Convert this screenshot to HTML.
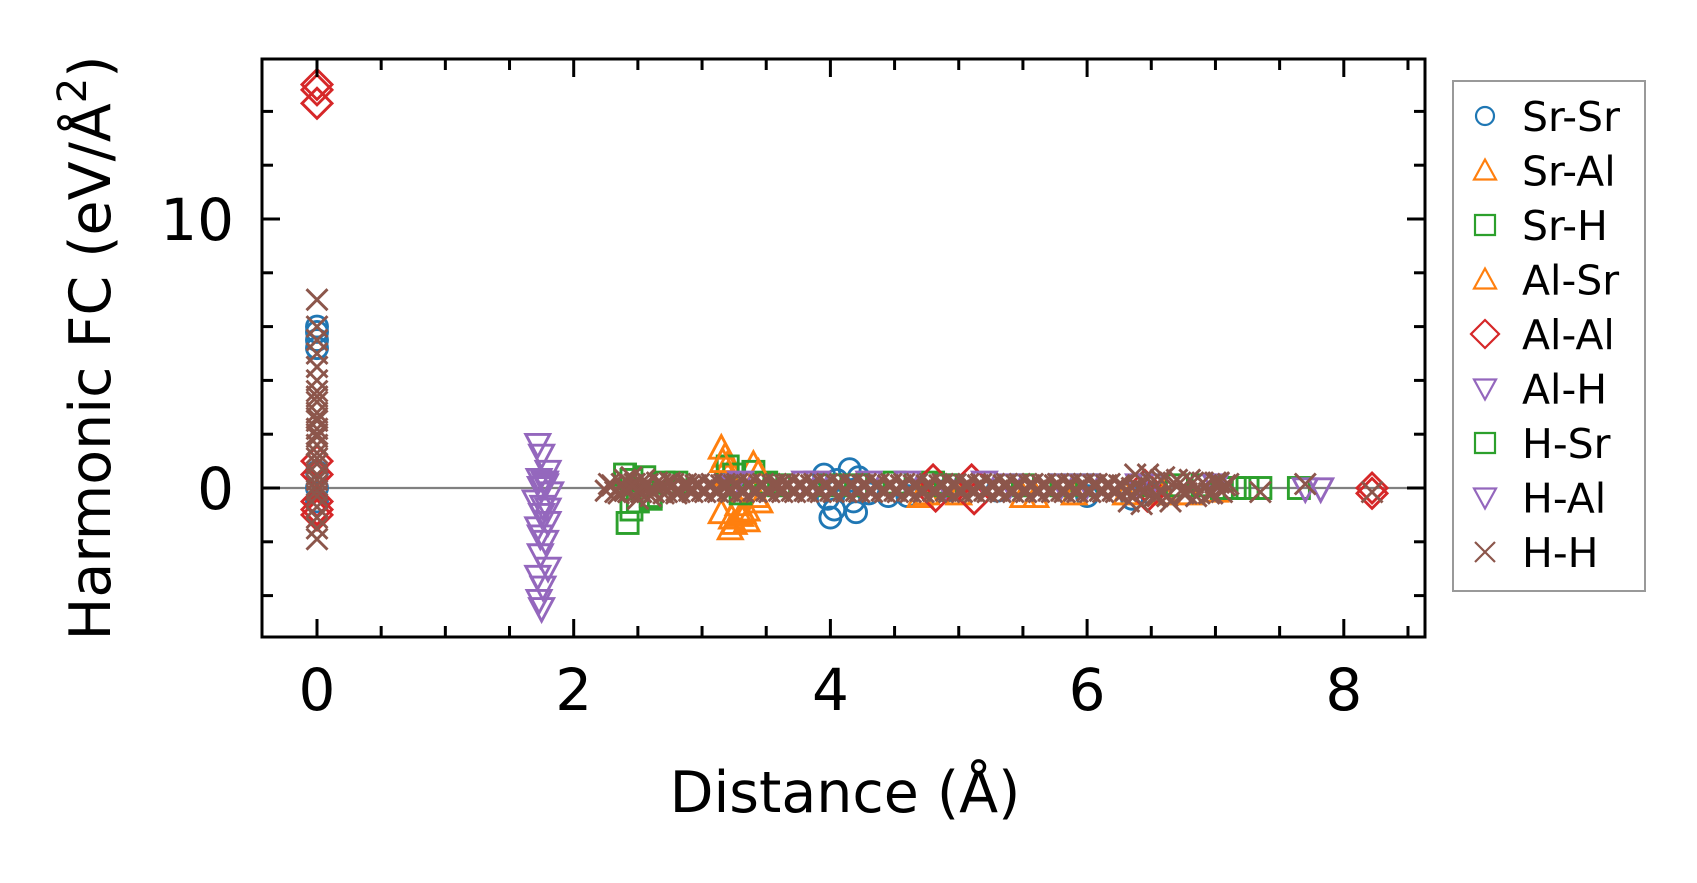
<!DOCTYPE html>
<html><head><meta charset="utf-8"><style>
html,body{margin:0;padding:0;background:#fff;}
svg{display:block;font-family:"DejaVu Sans","Liberation Sans",sans-serif;}
</style></head><body>
<svg id="chart" width="1697" height="883" viewBox="0 0 1697 883"></svg>
<script>
// ---- data ----
const xTicks=[0,2,4,6,8];
const yTicks=[0,10];
const seriesNames=["Sr-Sr","Sr-Al","Sr-H","Al-Sr","Al-Al","Al-H","H-Sr","H-Al","H-H"];
const srsrX=[0,0,0,0,0,0,0,3.95,3.98,4.0,4.03,4.05,4.15,4.18,4.2,4.22,4.3,4.45,4.6,4.9,5.3,6.0,6.35,6.5];
const srsrY=[6.0,5.8,5.5,5.2,0.6,0,-0.5,0.5,-0.4,-1.1,-0.8,0.3,0.7,-0.5,-0.9,0.4,-0.2,-0.3,-0.3,-0.1,-0.1,-0.3,-0.4,-0.2];
const sralX=[3.15,3.18,3.2,3.22,3.25,3.3,3.35,3.4,3.45,3.15,3.2,3.28,3.35,3.42,4.7,5.0,5.5,5.9,6.3,6.8,7.0];
const sralY=[1.5,1.2,0.9,-1.5,-1.3,-1.0,-1.2,0.9,-0.5,-0.9,0.5,-0.6,-0.8,-0.3,-0.3,-0.2,-0.3,-0.2,-0.2,-0.2,-0.1];
const srhX=[2.4,2.42,2.45,2.5,2.55,2.6,2.7,3.2,3.25,3.4,3.5,4.0,4.5,4.8,5.5,6.0,6.5,6.9,7.15,7.35];
const srhY=[0.5,-1.3,-0.8,-0.5,0.4,-0.3,0.2,0.8,0.5,0.6,0.2,0.1,0.2,0.2,0.1,0.1,0.1,0.1,0.0,0.0];
const alsrX=[3.16,3.23,3.32,3.44,4.75,5.6,6.6];
const alsrY=[1.0,-1.1,-0.9,0.6,-0.2,-0.3,-0.2];
const alalX=[0,0,0,0,0,0,0,0,4.8,4.82,5.1,5.12,6.45,6.47,8.22,8.22];
const alalY=[15.0,14.8,14.3,1.0,0.5,-0.5,-0.8,-1.0,0.3,-0.3,0.3,-0.4,0.1,-0.3,0.0,-0.2];
const alhX=[1.72,1.75,1.8,1.73,1.78,1.82,1.7,1.75,1.8,1.72,1.78,1.74,1.8,1.72,1.76,1.73,1.75,1.74,1.76,1.78,3.3,3.8,4.3,4.9,5.4,6.0,6.5];
const alhY=[1.6,1.2,0.6,0.3,0.1,-0.2,-0.5,-1.0,-1.3,-1.5,-2.0,-2.5,-3.0,-3.3,-3.7,-4.2,-4.5,0.0,-0.7,0.2,0.2,0.2,0.2,0.1,0.1,0.1,0.1];
const hsrX=[2.45,2.6,2.8,3.3,3.6,4.2,4.9,5.8,6.7,7.05,7.25,7.65];
const hsrY=[0.3,-0.4,0.2,-0.2,0.1,0.1,0.1,0.1,0.1,0.0,0.0,0.0];
const halX=[1.77,1.8,1.74,3.25,3.9,4.6,5.2,5.8,6.4,7.0,7.7,7.82];
const halY=[0.2,-0.8,-1.8,0.1,0.2,0.2,0.2,0.1,0.1,0.1,-0.05,-0.05];
const hhX=[0,0,0,0,0,0,0,0,0,0,0,0,0,0,0,0,0,0,0,0,0,0,0,0,0,0,0,0,
2.25,2.3,2.35,2.4,2.45,2.5,2.55,2.6,2.65,2.7,2.75,2.8,2.85,2.9,2.95,3.0,3.05,3.1,3.15,3.2,3.25,3.3,3.35,3.4,3.45,3.5,3.55,3.6,3.65,3.7,3.75,3.8,3.85,3.9,3.95,4.0,4.05,4.1,4.15,4.2,4.25,4.3,4.35,4.4,4.45,4.5,4.55,4.6,4.65,4.7,4.75,4.8,4.85,4.9,4.95,5.0,5.05,5.1,5.15,5.2,5.25,5.3,5.35,5.4,5.45,5.5,5.55,5.6,5.65,5.7,5.75,5.8,5.85,5.9,5.95,6.0,6.05,6.1,6.15,6.2,6.25,6.3,6.35,6.4,6.45,6.5,6.55,6.6,6.65,6.7,6.75,6.8,6.85,6.9,6.95,7.0,7.05,7.1,7.35,7.7,8.22,
2.275,2.325,2.375,2.425,2.475,2.525,2.575,2.625,2.675,2.725,2.775,2.825,2.875,2.925,2.975,3.025,3.075,3.125,3.175,3.225,3.275,3.325,3.375,3.425,3.475,3.525,3.575,3.625,3.675,3.725,3.775,3.825,3.875,3.925,3.975,4.025,4.075,4.125,4.175,4.225,4.275,4.325,4.375,4.425,4.475,4.525,4.575,4.625,4.675,4.725,4.775,4.825,4.875,4.925,4.975,5.025,5.075,5.125,5.175,5.225,5.275,5.325,5.375,5.425,5.475,5.525,5.575,5.625,5.675,5.725,5.775,5.825,5.875,5.925,5.975,6.025,6.075,6.125,6.175,6.225,6.275,6.325,6.375,6.425,6.475,6.525,6.575,6.625,6.675,6.725,6.775,6.825,6.875,6.925,6.975,7.025,7.075,
2.4,2.45,2.5,2.55,2.6,2.7,2.8,2.9,3.0,3.2,3.4,3.6,3.8,4.0,4.2,4.4,4.6,4.8,5.0,5.2,5.4,5.6,5.8,6.0,6.2,6.4,6.6,6.8,7.0];
const hhY=[7.0,6.0,5.5,5.0,4.5,4.0,3.6,3.2,2.8,2.5,2.2,1.9,1.6,1.3,0.9,0.5,0.1,-0.3,-0.7,-1.1,-1.5,-1.9,2.0,2.6,3.4,1.1,0.3,-0.1,
-0.1,0.1,-0.2,0.3,0.4,-0.4,0.3,-0.3,0.2,-0.2,0.2,-0.2,0.1,-0.1,0.1,-0.1,0.1,-0.1,0.1,-0.1,0.1,-0.1,0.1,-0.1,0.1,-0.1,0.1,-0.1,0.1,-0.1,0.1,-0.1,0.1,-0.1,0.1,-0.1,0.1,-0.1,0.1,-0.1,0.1,-0.1,0.1,-0.1,0.1,-0.1,0.1,-0.1,0.1,-0.1,0.1,-0.1,0.1,-0.1,0.1,-0.1,0.1,-0.1,0.1,-0.1,0.1,-0.1,0.1,-0.1,0.1,-0.1,0.1,-0.1,0.1,-0.1,0.1,-0.1,0.1,-0.1,0.1,-0.1,0.1,-0.1,0.1,-0.1,0.1,-0.1,0.0,0.0,-0.1,
0.2,-0.3,0.4,-0.5,0.3,-0.2,0.3,-0.3,0.2,-0.2,0.2,-0.15,0.15,-0.15,0.15,-0.15,0.15,-0.15,0.15,-0.15,0.15,-0.15,0.15,-0.15,0.15,-0.15,0.15,-0.15,0.15,-0.15,0.15,-0.15,0.15,-0.15,0.15,-0.15,0.15,-0.15,0.15,-0.15,0.15,-0.15,0.15,-0.15,0.15,-0.15,0.15,-0.15,0.15,-0.15,0.15,-0.15,0.15,-0.15,0.15,-0.15,0.15,-0.15,0.15,-0.15,0.15,-0.15,0.15,-0.15,0.15,-0.15,0.15,-0.15,0.15,-0.15,0.15,-0.15,0.15,-0.15,0.15,-0.15,0.15,-0.15,0.15,-0.15,0.15,-0.15,0.15,-0.15,0.15,-0.15,0.15,-0.15,0.15,-0.15,0.15,-0.15,0.15,-0.15,0.15,-0.15,0.1,
-0.5,0.5,-0.6,0.5,-0.3,0.3,-0.3,0.2,0.2,-0.2,0.2,-0.2,0.1,-0.2,0.2,0.1,-0.1,0.1,-0.1,0.1,-0.1,0.1,-0.1,0.1,-0.1,0.1,-0.1,0.1,-0.1];

// ---- layout ----
const L=262,R=1425,T=59,B=637;
const x0px=317,xs=128.35,y0px=488,ys=26.9;
const sx=x=>x0px+x*xs, sy=y=>y0px-y*ys;
const NS="http://www.w3.org/2000/svg";
const svg=document.getElementById('chart');
function mk(tag,attrs,parent){const e=document.createElementNS(NS,tag);for(const k in attrs)e.setAttribute(k,attrs[k]);(parent||svg).appendChild(e);return e;}

const zl=mk('line',{x1:L,x2:R,y1:sy(0),y2:sy(0),stroke:'#808080','stroke-width':2.2});



function marker(shape,color,cx,cy,g,sw){
  let e;
  const a={fill:'none',stroke:color,'stroke-width':sw};
  if(shape==='o'){e=mk('circle',Object.assign({cx:cx,cy:cy,r:10.5},a),g);}
  else if(shape==='^'){e=mk('path',Object.assign({d:`M${cx},${cy-12}L${cx-12},${cy+10.5}L${cx+12},${cy+10.5}Z`},a),g);}
  else if(shape==='v'){e=mk('path',Object.assign({d:`M${cx},${cy+12}L${cx-12},${cy-10.5}L${cx+12},${cy-10.5}Z`},a),g);}
  else if(shape==='s'){e=mk('rect',Object.assign({x:cx-10.5,y:cy-10.5,width:21,height:21},a),g);}
  else if(shape==='D'){e=mk('path',Object.assign({d:`M${cx},${cy-15}L${cx+15},${cy}L${cx},${cy+15}L${cx-15},${cy}Z`},a),g);}
  else {e=mk('path',Object.assign({d:`M${cx-10.5},${cy-10.5}L${cx+10.5},${cy+10.5}M${cx-10.5},${cy+10.5}L${cx+10.5},${cy-10.5}`},a),g);}
  return e;
}
const series=[
 {n:'sr-sr',x:srsrX,y:srsrY,s:'o',c:'#1f77b4'},
 {n:'sr-al',x:sralX,y:sralY,s:'^',c:'#ff7f0e'},
 {n:'sr-h',x:srhX,y:srhY,s:'s',c:'#2ca02c'},
 {n:'al-sr',x:alsrX,y:alsrY,s:'^',c:'#ff7f0e'},
 {n:'al-al',x:alalX,y:alalY,s:'D',c:'#d62728'},
 {n:'al-h',x:alhX,y:alhY,s:'v',c:'#9467bd'},
 {n:'h-sr',x:hsrX,y:hsrY,s:'s',c:'#2ca02c'},
 {n:'h-al',x:halX,y:halY,s:'v',c:'#9467bd'},
 {n:'h-h',x:hhX,y:hhY,s:'x',c:'#8c564b'}
];
const clip=mk('clipPath',{id:'cp'});mk('rect',{x:L,y:T,width:R-L,height:B-T},clip);
series.forEach(sr=>{
  const g=mk('g',{'clip-path':'url(#cp)'});
  
  
  sr.x.forEach((xv,i)=>{
    const m=marker(sr.s,sr.c,sx(xv),sy(sr.y[i]),g,2.9);
    
    
  });
});

const fr=mk('rect',{x:L,y:T,width:R-L,height:B-T,fill:'none',stroke:'#000','stroke-width':3});



const tg=mk('g',{stroke:'#000','stroke-width':3});


for(let k=-0.5;k<=8.6;k+=0.5){
  const X=sx(k);if(X<L||X>R)continue;
  const len=(Math.abs(k%2)<1e-6)?18:11;
  mk('line',{x1:X,x2:X,y1:B,y2:B-len},tg);
  mk('line',{x1:X,x2:X,y1:T,y2:T+len},tg);
}
for(let k=-4;k<=16;k+=2){
  const Y=sy(k);if(Y<T||Y>B)continue;
  const len=(k%10===0)?18:11;
  mk('line',{x1:L,x2:L+len,y1:Y,y2:Y},tg);
  mk('line',{x1:R,x2:R-len,y1:Y,y2:Y},tg);
}
xTicks.forEach(v=>{
  const t=mk('text',{x:sx(v),y:710,'font-size':58,'text-anchor':'middle'});
  t.textContent=v;
  
  
});
yTicks.forEach(v=>{
  const t=mk('text',{x:234,y:sy(v)+21,'font-size':58,'text-anchor':'end'});
  t.textContent=v;
  
  
});

const xt=mk('text',{x:845,y:812,'font-size':57,'text-anchor':'middle'});
xt.textContent='Distance (Å)';


const yt=mk('text',{transform:'translate(110,348) rotate(-90)','font-size':57,'text-anchor':'middle'});
yt.innerHTML='Harmonic FC (eV/Å<tspan font-size="40" dy="-24">2</tspan><tspan dy="24">)</tspan>';



const lg=mk('g',{});


mk('rect',{x:1453,y:81,width:192,height:510,fill:'#fff',stroke:'#999','stroke-width':2},lg);
const legShapes=['o','^','s','^','D','v','s','v','x'];
const legColors=['#1f77b4','#ff7f0e','#2ca02c','#ff7f0e','#d62728','#9467bd','#2ca02c','#9467bd','#8c564b'];
seriesNames.forEach((nm,i)=>{
  const cy=116+i*54.5;
  const cx=1485;
  const sh=legShapes[i],c=legColors[i];
  let m;
  if(sh==='o'){m=mk('circle',{cx:cx,cy:cy,r:9},lg);}
  else{let d;
    if(sh==='^')d=`M${cx},${cy-11}L${cx-11},${cy+9}L${cx+11},${cy+9}Z`;
    else if(sh==='v')d=`M${cx},${cy+11}L${cx-11},${cy-9}L${cx+11},${cy-9}Z`;
    else if(sh==='s')d=`M${cx-10},${cy-10}h20v20h-20Z`;
    else if(sh==='D')d=`M${cx},${cy-14}L${cx+14},${cy}L${cx},${cy+14}L${cx-14},${cy}Z`;
    else d=`M${cx-10},${cy-10}L${cx+10},${cy+10}M${cx-10},${cy+10}L${cx+10},${cy-10}`;
    m=mk('path',{d:d},lg);}
  m.setAttribute('fill','none');m.setAttribute('stroke',c);m.setAttribute('stroke-width',2.2);
  
  
  const t=mk('text',{x:1522,y:cy+15,'font-size':41},lg);
  t.textContent=nm;
  
  
});
</script>
</body></html>
